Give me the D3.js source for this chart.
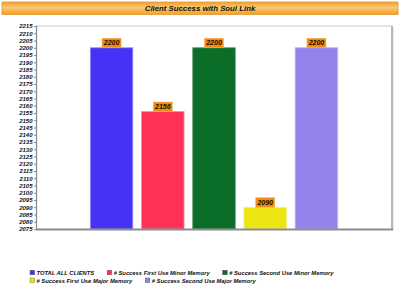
<!DOCTYPE html>
<html>
<head>
<meta charset="utf-8">
<script src="https://cdn.jsdelivr.net/npm/d3@7"></script>
<style>
  body { margin: 0; background: #fff; }
  svg text { font-family: "Liberation Sans", Arial, sans-serif; font-weight: bold; font-style: italic; }
</style>
</head>
<body>
<svg id="chart" width="400" height="295"></svg>
<script>
const title = "Client Success with Soul Link";
const categories = [
  "TOTAL ALL CLIENTS",
  "# Success First Use Minor Memory",
  "# Success Second Use Minor Memory",
  "# Success First Use Major Memory",
  "# Success Second Use Major Memory"
];
const values = [2200, 2156, 2200, 2090, 2200];
const colors = ["#4433f5", "#ff3355", "#0b6e28", "#eee612", "#9384ec"];
const strokes = ["#9a90ff", "#ff8aa0", "#5a9a6a", "#f4f08a", "#bdb2f6"];
const yDomain = [2075, 2215];

let width = 400;
let height = 295;
let margin = { top: 26, right: 8, bottom: 66, left: 36 };
let svg = d3.select("#chart");

// title band
let defs = svg.append("defs");
let grad = defs.append("linearGradient")
    .attr("id", "titleGrad")
    .attr("x1", 0).attr("y1", 0).attr("x2", 0).attr("y2", 1);
grad.append("stop").attr("offset", "0%").attr("stop-color", "#f0a030");
grad.append("stop").attr("offset", "45%").attr("stop-color", "#fcc870");
grad.append("stop").attr("offset", "100%").attr("stop-color", "#efa02a");

svg.append("rect")
    .attr("x", 2).attr("y", 2)
    .attr("width", width - 4).attr("height", 12.5)
    .style("fill", "url(#titleGrad)")
    .style("stroke", "#e39a2c")
    .style("stroke-width", 0.8);

svg.append("text")
    .attr("x", width / 2)
    .attr("y", 11.3)
    .attr("text-anchor", "middle")
    .style("font-size", "7.8px")
    .style("fill", "#111")
    .text(title);

let x = d3.scaleBand()
    .domain(categories)
    .range([margin.left, width - margin.right])
    .paddingInner(0.17)
    .paddingOuter(1.06);

let y = d3.scaleLinear()
    .domain(yDomain)
    .range([height - margin.bottom, margin.top]);

let x0 = margin.left, x1 = width - margin.right;
let y0 = height - margin.bottom, y1 = margin.top;

// plot frame
svg.append("line").attr("x1", x0).attr("x2", x1).attr("y1", y1).attr("y2", y1)
    .style("stroke", "#c8c8c8").style("stroke-width", 1);
svg.append("line").attr("x1", x1).attr("x2", x1).attr("y1", y1).attr("y2", y0)
    .style("stroke", "#a8a8a8").style("stroke-width", 1.6);
svg.append("line").attr("x1", x1 + 1.5).attr("x2", x1 + 1.5).attr("y1", y1 + 1).attr("y2", y0 + 1)
    .style("stroke", "#e8e8e8").style("stroke-width", 1);

// bars
svg.append("g")
    .selectAll("rect")
    .data(values)
    .join("rect")
    .attr("x", (d, i) => x(categories[i]))
    .attr("y", d => y(d))
    .attr("width", x.bandwidth())
    .attr("height", d => y(yDomain[0]) - y(d))
    .style("fill", (d, i) => colors[i])
    .style("stroke", (d, i) => strokes[i])
    .style("stroke-width", 0.8);

// value labels
let labels = svg.append("g")
    .selectAll("g")
    .data(values)
    .join("g")
    .attr("transform", (d, i) => `translate(${x(categories[i]) + x.bandwidth() / 2},${y(d)})`);

labels.append("rect")
    .attr("x", -9.5)
    .attr("y", -9.5)
    .attr("width", 19)
    .attr("height", 9.5)
    .style("fill", "#f58a0a")
    .style("stroke", "#f7b060")
    .style("stroke-width", 0.6);

labels.append("text")
    .attr("x", 0)
    .attr("y", -2.3)
    .attr("text-anchor", "middle")
    .style("font-size", "7px")
    .style("fill", "#111")
    .text(d => d);

// y axis
let yAxisSettings = d3.axisLeft(y)
    .tickValues(d3.range(yDomain[0], yDomain[1] + 1, 5))
    .tickSize(2)
    .tickPadding(1.5)
    .tickFormat(d3.format("d"));

let yAxisTicks = svg.append("g")
    .attr("class", "y axis")
    .attr("transform", `translate(${margin.left},0)`)
    .call(yAxisSettings);

yAxisTicks.select(".domain").style("stroke", "#888").style("stroke-width", 1.2);
yAxisTicks.selectAll(".tick line").style("stroke", "#888");
yAxisTicks.selectAll(".tick text")
    .style("font-size", "6px")
    .style("fill", "#111")
    .style("font-family", "'Liberation Sans', Arial, sans-serif");

// bottom axis line
svg.append("line").attr("x1", x0).attr("x2", x1 + 1).attr("y1", y0 + 0.5).attr("y2", y0 + 0.5)
    .style("stroke", "#8c8c8c").style("stroke-width", 1.8);

// legend, flowing left to right
let legend = svg.append("g").attr("class", "legend");
let lx = 30, ly = 274.5, rowH = 7.8, maxX = 345;
categories.forEach((c, i) => {
  let item = legend.append("g");
  item.append("rect")
      .attr("x", 0).attr("y", -4.3)
      .attr("width", 4.6).attr("height", 4.6)
      .style("fill", colors[i])
      .style("stroke", "#555")
      .style("stroke-width", 0.4);
  let t = item.append("text")
      .attr("x", 6.5).attr("y", 0.6)
      .style("font-size", "5.8px")
      .style("fill", "#111")
      .text(c);
  let w = 6.5 + t.node().getComputedTextLength();
  if (lx + w > maxX) { lx = 30; ly += rowH; }
  item.attr("transform", `translate(${lx},${ly})`);
  lx += w + 13;
});
</script>
</body>
</html>
